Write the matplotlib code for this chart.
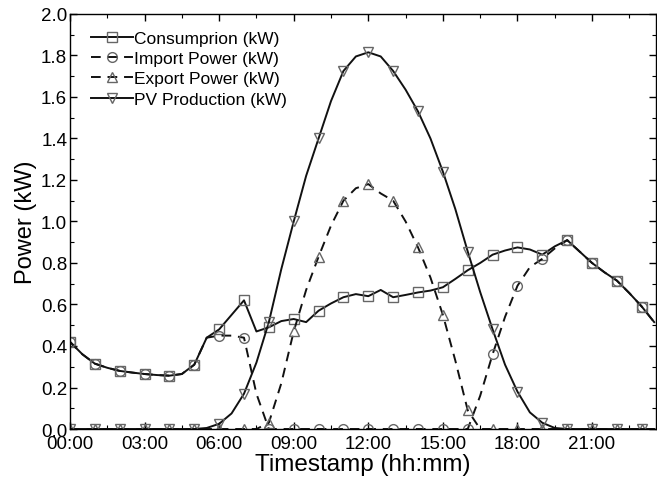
import numpy as np
import matplotlib
matplotlib.use("Agg")
import matplotlib.pyplot as plt
from matplotlib.ticker import MultipleLocator, FuncFormatter

# half-hourly samples, 00:00 .. 23:30 (hours)
hours = np.arange(0, 24, 0.5)

consumption = [0.42, 0.36, 0.315, 0.295, 0.28, 0.272, 0.265, 0.26, 0.257, 0.265,
               0.31, 0.44, 0.48, 0.55, 0.62, 0.47, 0.49, 0.52, 0.53, 0.515,
               0.57, 0.605, 0.635, 0.65, 0.64, 0.67, 0.635, 0.646, 0.658, 0.667,
               0.683, 0.723, 0.765, 0.80, 0.84, 0.86, 0.875, 0.865, 0.84, 0.88,
               0.91, 0.855, 0.80, 0.755, 0.715, 0.655, 0.59, 0.515]

import_power = [0.42, 0.36, 0.315, 0.295, 0.28, 0.272, 0.265, 0.26, 0.257, 0.265,
                0.31, 0.44, 0.45, 0.45, 0.44, 0.17, 0.0, 0.0, 0.0, 0.0,
                0.0, 0.0, 0.0, 0.0, 0.0, 0.0, 0.0, 0.0, 0.0, 0.0,
                0.0, 0.0, 0.0, 0.16, 0.36, 0.54, 0.69, 0.78, 0.82, 0.87,
                0.91, 0.855, 0.80, 0.755, 0.715, 0.655, 0.59, 0.515]

export_power = [0.0, 0.0, 0.0, 0.0, 0.0, 0.0, 0.0, 0.0, 0.0, 0.0,
                0.0, 0.0, 0.0, 0.0, 0.0, 0.0, 0.03, 0.22, 0.47, 0.67,
                0.83, 0.98, 1.10, 1.16, 1.18, 1.135, 1.10, 1.0, 0.875, 0.73,
                0.55, 0.33, 0.09, 0.0, 0.0, 0.0, 0.0, 0.0, 0.0, 0.0,
                0.0, 0.0, 0.0, 0.0, 0.0, 0.0, 0.0, 0.0]

pv_production = [0.0, 0.0, 0.0, 0.0, 0.0, 0.0, 0.0, 0.0, 0.0, 0.0,
                 0.0, 0.005, 0.025, 0.075, 0.17, 0.32, 0.515, 0.77, 1.0, 1.22,
                 1.40, 1.58, 1.725, 1.795, 1.815, 1.795, 1.725, 1.635, 1.53, 1.40,
                 1.24, 1.06, 0.855, 0.66, 0.48, 0.31, 0.18, 0.08, 0.03, 0.005,
                 0.0, 0.0, 0.0, 0.0, 0.0, 0.0, 0.0, 0.0]

labels = ["Consumprion (kW)", "Import Power (kW)", "Export Power (kW)", "PV Production (kW)"]

plt.rcParams["font.family"] = ["Liberation Sans", "DejaVu Sans"]

fig = plt.figure(figsize=(6.57, 4.81), dpi=100)
ax = fig.add_axes([0.1065, 0.106, 0.8915, 0.863])

line_kw = dict(color="#111111", lw=1.4, markevery=2, markersize=7,
               mfc="none", mec="#666666", mew=1.0)
dash = (0, (5, 3.5))

ax.plot(hours, consumption, marker="s", ls="-", label=labels[0], **line_kw)
ax.plot(hours, import_power, marker="o", ls=dash, label=labels[1], **line_kw)
ax.plot(hours, export_power, marker="^", ls=dash, label=labels[2], **line_kw)
ax.plot(hours, pv_production, marker="v", ls="-", label=labels[3], **line_kw)

ax.set_xlim(0, 23.56)
ax.set_ylim(0, 2.0)
ax.xaxis.set_major_locator(MultipleLocator(3))
ax.xaxis.set_minor_locator(MultipleLocator(1.5))
ax.xaxis.set_major_formatter(FuncFormatter(lambda v, p: f"{int(round(v)):02d}:00"))
ax.yaxis.set_major_locator(MultipleLocator(0.2))
ax.yaxis.set_minor_locator(MultipleLocator(0.1))
ax.yaxis.set_major_formatter(FuncFormatter(lambda v, p: f"{v:.1f}"))

ax.tick_params(which="both", direction="in", top=True, right=True, labelsize=13.5)
ax.tick_params(axis="x", pad=4)
ax.tick_params(axis="y", pad=2)
ax.tick_params(which="major", length=5, width=1)
ax.tick_params(which="minor", length=3, width=0.8)
for s in ax.spines.values():
    s.set_linewidth(1.0)

ax.set_xlabel("Timestamp (hh:mm)", fontsize=17.5, labelpad=1)
ax.set_ylabel("Power (kW)", fontsize=17, labelpad=3)

ax.legend(loc="upper left", bbox_to_anchor=(0.018, 0.985), frameon=False, fontsize=12.5,
          handlelength=2.4, handletextpad=0.1, labelspacing=0.3, borderaxespad=0.2)

fig.savefig("out.png", dpi=100)
